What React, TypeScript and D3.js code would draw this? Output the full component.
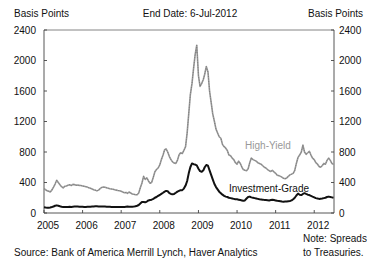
import React, { useEffect, useRef } from 'react';
import * as d3 from 'd3';

// semi-monthly readings (1st and 16th of each month), basis points
const years = [2005, 2006, 2007, 2008, 2009, 2010, 2011, 2012];

const hy2005 = [320, 305, 290, 285, 275, 300, 340, 380, 430, 400, 370, 345, 330, 350, 355, 365, 370, 360, 375, 372, 365, 368, 362, 360];
const hy2006 = [355, 350, 345, 340, 330, 325, 315, 305, 300, 290, 300, 320, 335, 340, 338, 330, 325, 318, 315, 312, 305, 300, 295, 292];
const hy2007 = [285, 275, 265, 270, 258, 275, 262, 250, 245, 240, 240, 262, 330, 390, 480, 440, 460, 420, 390, 400, 470, 540, 570, 590];
const hy2008 = [630, 700, 760, 830, 840, 800, 740, 700, 670, 655, 650, 690, 760, 790, 780, 820, 870, 1050, 1300, 1550, 1700, 1900, 2080, 2200];
const hy2009 = [1800, 1660, 1700, 1750, 1820, 1920, 1850, 1600, 1450, 1300, 1200, 1100, 1050, 1000, 980, 900, 870, 850, 820, 760, 750, 720, 700, 660];
const hy2010 = [640, 680, 650, 600, 570, 560, 555, 580, 660, 720, 700, 690, 680, 660, 650, 640, 620, 600, 590, 570, 555, 545, 560, 540];
const hy2011 = [520, 495, 490, 480, 470, 455, 450, 460, 480, 500, 510, 520, 560, 650, 730, 760, 800, 890, 800, 770, 790, 810, 760, 720];
const hy2012 = [700, 660, 640, 610, 600, 620, 650, 640, 690, 720, 690, 650, 640];

const ig2005 = [75, 72, 70, 70, 72, 78, 85, 95, 100, 95, 88, 82, 80, 80, 78, 80, 82, 80, 82, 84, 85, 84, 83, 82];
const ig2006 = [82, 80, 80, 82, 82, 83, 85, 86, 88, 88, 86, 85, 85, 84, 84, 83, 82, 82, 80, 80, 80, 79, 78, 78];
const ig2007 = [78, 78, 80, 82, 84, 82, 82, 82, 84, 88, 95, 105, 125, 145, 145, 140, 150, 165, 170, 175, 185, 200, 210, 225];
const ig2008 = [236, 250, 265, 280, 290, 285, 260, 250, 245, 250, 265, 280, 290, 300, 300, 320, 360, 420, 520, 600, 650, 640, 635, 625];
const ig2009 = [580, 550, 540, 560, 600, 630, 620, 560, 500, 440, 380, 340, 310, 280, 260, 240, 225, 215, 210, 200, 195, 190, 185, 180];
const ig2010 = [180, 175, 170, 165, 160, 165, 190, 210, 215, 205, 200, 195, 190, 185, 180, 178, 175, 172, 170, 168, 165, 170, 175, 170];
const ig2011 = [165, 160, 158, 155, 150, 148, 150, 152, 155, 158, 165, 180, 200, 230, 255, 240, 235, 250, 260, 250, 240, 235, 225, 215];
const ig2012 = [205, 195, 190, 185, 188, 190, 195, 200, 210, 215, 210, 205, 200];

const hyByYear = [hy2005, hy2006, hy2007, hy2008, hy2009, hy2010, hy2011, hy2012];
const igByYear = [ig2005, ig2006, ig2007, ig2008, ig2009, ig2010, ig2011, ig2012];

const yTicks = [0, 400, 800, 1200, 1600, 2000, 2400];
const yearLabels = ['2005', '2006', '2007', '2008', '2009', '2010', '2011', '2012'];

type Pt = { date: Date; value: number };

const toSeries = (byYear: number[][]): Pt[] =>
  byYear.flatMap((vals, yi) =>
    vals.map((v, i) => ({
      date: new Date(years[yi], Math.floor(i / 2), i % 2 ? 16 : 1),
      value: v
    }))
  );

const App: React.FC = () => {
  const svgRef = useRef<SVGSVGElement>(null);

  useEffect(() => {
    const svg = d3.select(svgRef.current);
    svg.selectAll('*').remove();

    const width = 367;
    const height = 260;
    const left = 44;
    const right = 334;
    const top = 30;
    const bottom = 213;
    const font = '"Liberation Sans", Arial, sans-serif';

    const hy = toSeries(hyByYear);
    const ig = toSeries(igByYear);

    const x = d3.scaleTime()
      .domain([new Date(2005, 0, 1), new Date(2012, 6, 6)])
      .range([left, right]);

    const y = d3.scaleLinear()
      .domain([0, 2400])
      .range([bottom, top]);

    svg.attr('width', width).attr('height', height);
    svg.append('rect').attr('width', width).attr('height', height).attr('fill', '#fff');

    // frame
    svg.append('line')
      .attr('x1', left).attr('x2', right).attr('y1', top).attr('y2', top)
      .attr('stroke', '#666').attr('stroke-width', 0.8);
    svg.append('line')
      .attr('x1', left).attr('x2', right).attr('y1', bottom).attr('y2', bottom)
      .attr('stroke', '#444').attr('stroke-width', 0.9);
    [left, right].forEach(xx => {
      svg.append('line')
        .attr('x1', xx).attr('x2', xx).attr('y1', top).attr('y2', bottom)
        .attr('stroke', '#444').attr('stroke-width', 0.9);
    });

    // y ticks, both sides, pointing inward
    yTicks.forEach(t => {
      svg.append('line')
        .attr('x1', left).attr('x2', left + 3).attr('y1', y(t)).attr('y2', y(t))
        .attr('stroke', '#444').attr('stroke-width', 0.9);
      svg.append('line')
        .attr('x1', right - 3).attr('x2', right).attr('y1', y(t)).attr('y2', y(t))
        .attr('stroke', '#444').attr('stroke-width', 0.9);
      svg.append('text')
        .attr('x', 36).attr('y', y(t) + 3.5)
        .attr('text-anchor', 'end')
        .style('font', `10px ${font}`).attr('fill', '#111')
        .text(t);
      svg.append('text')
        .attr('x', 339).attr('y', y(t) + 3.5)
        .attr('text-anchor', 'start')
        .style('font', `10px ${font}`).attr('fill', '#111')
        .text(t);
    });

    // x ticks and year labels
    yearLabels.forEach(lbl => {
      const xx = x(new Date(+lbl, 0, 1));
      svg.append('line')
        .attr('x1', xx).attr('x2', xx).attr('y1', bottom).attr('y2', bottom - 3)
        .attr('stroke', '#444').attr('stroke-width', 0.9);
      svg.append('text')
        .attr('x', xx + 4).attr('y', 229)
        .attr('text-anchor', 'middle')
        .style('font', `10px ${font}`).attr('fill', '#111')
        .text(lbl);
    });

    const line = d3.line<Pt>()
      .x(d => x(d.date))
      .y(d => y(d.value));

    svg.append('path')
      .datum(hy)
      .attr('d', line)
      .attr('fill', 'none')
      .attr('stroke', '#9a9a9a')
      .attr('stroke-width', 1.6)
      .attr('stroke-linejoin', 'round');
    svg.append('path')
      .datum(hy)
      .attr('d', line)
      .attr('fill', 'none')
      .attr('stroke', '#666')
      .attr('stroke-width', 0.6)
      .attr('stroke-dasharray', '1,1.5');

    svg.append('path')
      .datum(ig)
      .attr('d', line)
      .attr('fill', 'none')
      .attr('stroke', '#111')
      .attr('stroke-width', 2)
      .attr('stroke-linejoin', 'round');

    // series labels
    svg.append('text')
      .attr('x', 268).attr('y', 148.5)
      .attr('text-anchor', 'middle')
      .style('font', `10px ${font}`).attr('fill', '#999')
      .text('High-Yield');
    svg.append('text')
      .attr('x', 269).attr('y', 191.5)
      .attr('text-anchor', 'middle')
      .style('font', `10px ${font}`).attr('fill', '#111')
      .text('Investment-Grade');

    // headers
    svg.append('text')
      .attr('x', 14).attr('y', 17)
      .style('font', `10px ${font}`).attr('fill', '#111')
      .text('Basis Points');
    svg.append('text')
      .attr('x', 190).attr('y', 17)
      .attr('text-anchor', 'middle')
      .style('font', `10px ${font}`).attr('fill', '#111')
      .text('End Date: 6-Jul-2012');
    svg.append('text')
      .attr('x', 363).attr('y', 17)
      .attr('text-anchor', 'end')
      .style('font', `10px ${font}`).attr('fill', '#111')
      .text('Basis Points');

    // footer
    svg.append('text')
      .attr('x', 14).attr('y', 256)
      .style('font', `10px ${font}`).attr('fill', '#111')
      .text('Source: Bank of America Merrill Lynch, Haver Analytics');
    svg.append('text')
      .attr('x', 303).attr('y', 242)
      .style('font', `10px ${font}`).attr('fill', '#111')
      .text('Note: Spreads');
    svg.append('text')
      .attr('x', 303).attr('y', 256)
      .style('font', `10px ${font}`).attr('fill', '#111')
      .text('to Treasuries.');
  }, []);

  return (
    <svg ref={svgRef} style={{ position: 'absolute', left: 0, top: 0 }}></svg>
  );
};

export default App;
